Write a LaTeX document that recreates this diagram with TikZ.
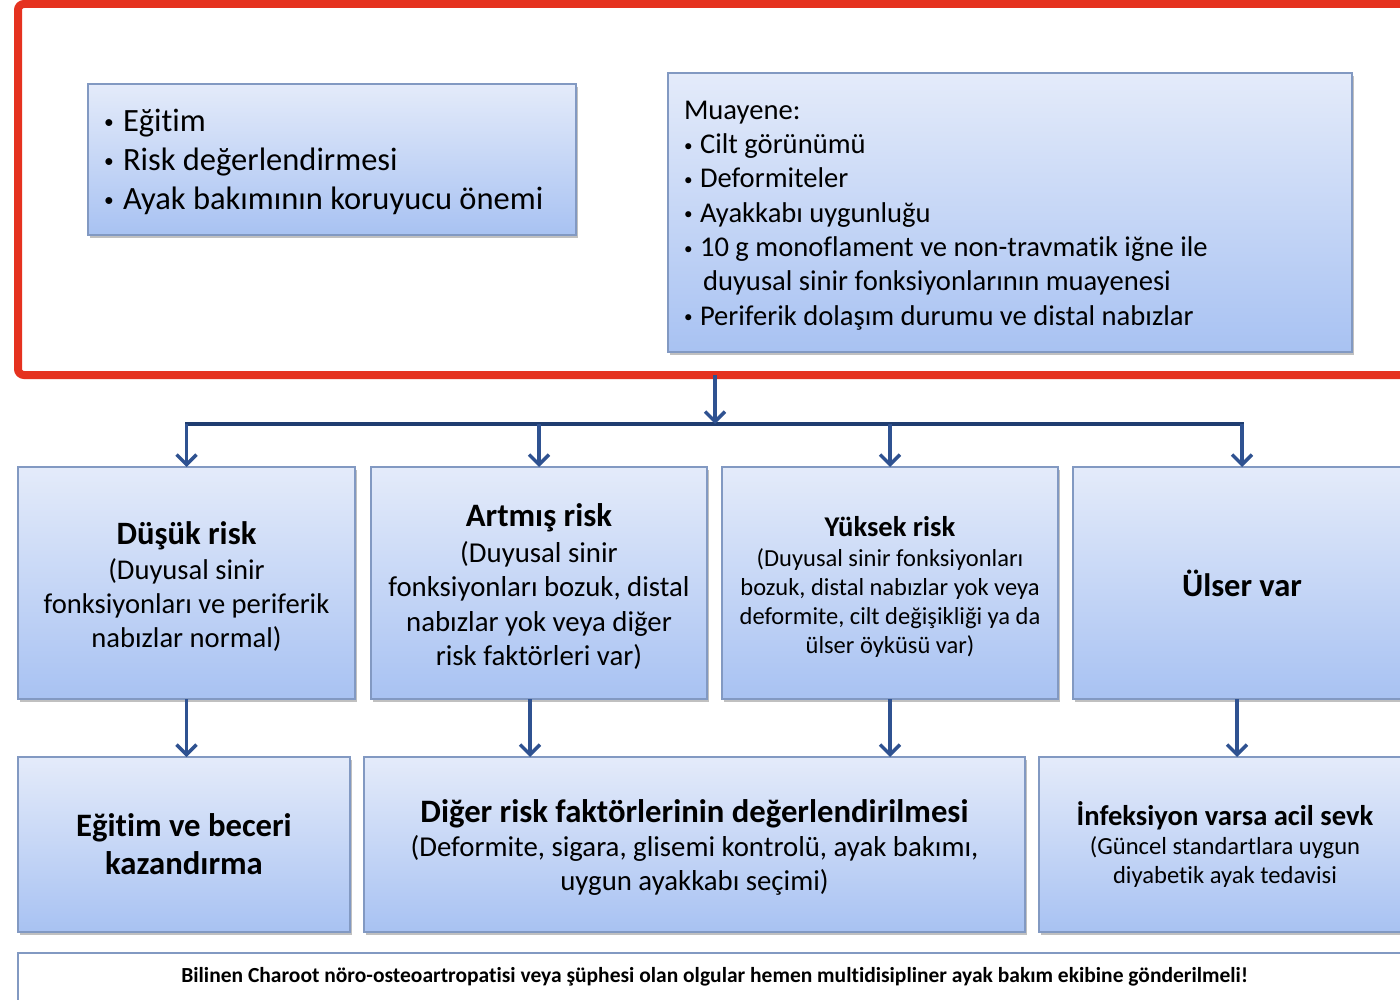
\documentclass[tikz,border=0pt]{standalone}
\usepackage{fontspec}
\setmainfont{Carlito}[Ligatures=NoCommon]
\usetikzlibrary{arrows.meta,shadows,calc}
\definecolor{boxtop}{HTML}{E4EBFA}
\definecolor{boxbot}{HTML}{A8C2F2}
\definecolor{boxline}{HTML}{8299C2}
\definecolor{framered}{HTML}{E5321F}
\definecolor{arrowblue}{HTML}{2F5291}
\definecolor{busblue}{HTML}{203D70}
\newcommand{\fsz}[2]{\fontsize{#1}{#2}\selectfont}
\newcommand{\blt}[1]{\makebox[#1][l]{\raisebox{0.08em}{\scalebox{0.6}{\textbullet}}}}
\begin{document}
\begin{tikzpicture}[x=1pt,y=-1pt,
  box/.style={draw=boxline, line width=1.6pt, top color=boxtop, bottom color=boxbot,
    inner sep=0pt, outer sep=0pt, align=center,
    drop shadow={shadow xshift=2pt, shadow yshift=-3pt, opacity=0.35, fill=black!70}},
  notebox/.style={draw=boxline, line width=1.6pt, fill=white, inner sep=0pt, outer sep=0pt,
    drop shadow={shadow xshift=2pt, shadow yshift=-3pt, opacity=0.3, fill=black!70}},
  arr/.style={draw=arrowblue, line width=3.4pt, -{Straight Barb[length=10pt,width=20pt]}},
  busline/.style={draw=busblue, line width=3.6pt, line cap=rect},
]
\useasboundingbox (0,0) rectangle (1400,1000);
\fill[white] (0,0) rectangle (1400,1000);

% red frame
\node[draw=framered, line width=8pt, rounded corners=6pt, inner sep=0pt, outer sep=0pt,
  minimum width=1394, minimum height=371] (frame) at (715,189.5) {};

% top boxes
\node[box, minimum width=488, minimum height=151, align=left] (edu) at (332,159.5)
 {\begin{minipage}{456pt}\vspace*{5pt}\fsz{32.5}{39}\raggedright
  \blt{19pt}Eğitim\\
  \blt{19pt}Risk değerlendirmesi\\
  \blt{19pt}Ayak bakımının koruyucu önemi\end{minipage}};

\node[box, minimum width=684, minimum height=279, align=left] (exam) at (1010,212.5)
 {\begin{minipage}{652pt}\vspace*{6pt}\fsz{28.6}{34.3}\raggedright
  Muayene:\\
  \blt{16pt}Cilt görünümü\\
  \blt{16pt}Deformiteler\\
  \blt{16pt}Ayakkabı uygunluğu\\
  \blt{16pt}10 g monoflament ve non-travmatik iğne ile\\
  \hspace*{19pt}duyusal sinir fonksiyonlarının muayenesi\\
  \blt{16pt}Periferik dolaşım durumu ve distal nabızlar\end{minipage}};

% row 2
\node[box, minimum width=337, minimum height=232] (r1) at (186.5,583)
 {\begin{minipage}{330pt}\centering\vspace*{8pt}\fsz{32.6}{36}\bfseries Düşük risk\par
  \fsz{28.6}{34}\mdseries\vspace{1pt}(Duyusal sinir\\fonksiyonları ve periferik\\nabızlar normal)\end{minipage}};
\node[box, minimum width=336, minimum height=232] (r2) at (539,583)
 {\begin{minipage}{330pt}\centering\vspace*{8pt}\fsz{32.7}{36}\bfseries Artmış risk\par
  \fsz{28.8}{34.5}\mdseries\vspace{1pt}(Duyusal sinir\\fonksiyonları bozuk, distal\\nabızlar yok veya diğer\\risk faktörleri var)\end{minipage}};
\node[box, minimum width=336, minimum height=232] (r3) at (890,583)
 {\begin{minipage}{330pt}\centering\vspace*{7pt}\fsz{28.6}{32}\bfseries Yüksek risk\par
  \fsz{24.5}{29}\mdseries\vspace{1pt}(Duyusal sinir fonksiyonları\\bozuk, distal nabızlar yok veya\\deformite, cilt değişikliği ya da\\ülser öyküsü var)\end{minipage}};
\node[box, minimum width=338, minimum height=232] (r4) at (1242,583)
 {\fsz{32.5}{36}\bfseries Ülser var};

% row 3
\node[box, minimum width=332, minimum height=175] (a) at (184,844.5)
 {\begin{minipage}{325pt}\centering\fsz{32.7}{38}\bfseries Eğitim ve beceri\\kazandırma\end{minipage}};
\node[box, minimum width=661, minimum height=175] (b) at (694.5,844.5)
 {\begin{minipage}{655pt}\centering\vspace*{5pt}\fsz{32.7}{36}\bfseries Diğer risk faktörlerinin değerlendirilmesi\par
  \fsz{28.8}{34}\mdseries (Deformite, sigara, glisemi kontrolü, ayak bakımı,\\uygun ayakkabı seçimi)\end{minipage}};
\node[box, minimum width=372, minimum height=175] (c) at (1225,844.5)
 {\begin{minipage}{365pt}\centering\fsz{28.6}{32}\bfseries İnfeksiyon varsa acil sevk\par
  \fsz{24.6}{29}\mdseries (Güncel standartlara uygun\\diyabetik ayak tedavisi\end{minipage}};

% note
\node[notebox, minimum width=1393, minimum height=48] (note) at (714.5,977)
 {\fsz{21.5}{24}\bfseries Bilinen Charoot nöro-osteoartropatisi veya şüphesi olan olgular hemen multidisipliner ayak bakım ekibine gönderilmeli!};

% connectors
\coordinate (bus) at (715,424);
\draw[busline] (r1.north |- bus) -- (r4.north |- bus);
\draw[arr] (frame.south) -- (frame.south |- bus);
\draw[arr] (r1.north |- bus) -- (r1.north);
\draw[arr] (r2.north |- bus) -- (r2.north);
\draw[arr] (r3.north |- bus) -- (r3.north);
\draw[arr] (r4.north |- bus) -- (r4.north);

\draw[arr] (r1.south) -- (r1.south |- a.north);
\draw[arr] ([xshift=-9pt]r2.south) -- ([xshift=-9pt]r2.south |- b.north);
\draw[arr] (r3.south) -- (r3.south |- b.north);
\draw[arr] ([xshift=-5pt]r4.south) -- ([xshift=-5pt]r4.south |- c.north);
\end{tikzpicture}
\end{document}
